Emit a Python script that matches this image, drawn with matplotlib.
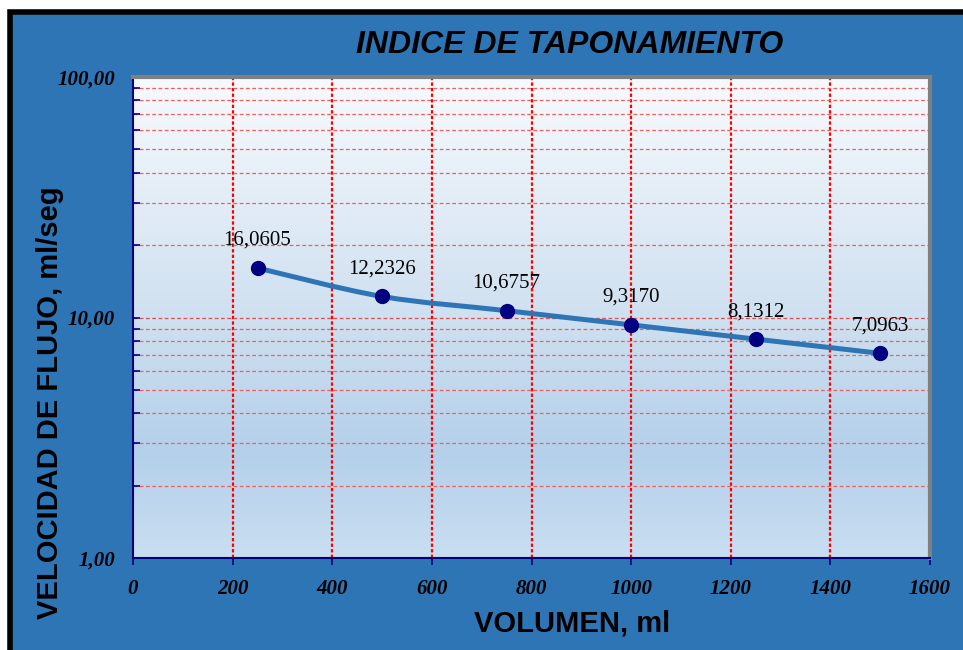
import numpy as np
import matplotlib
matplotlib.use("Agg")
import matplotlib.pyplot as plt
from matplotlib.path import Path
from matplotlib.patches import PathPatch, Rectangle
from matplotlib.ticker import FixedLocator, LogLocator, NullFormatter

# data
volumen = [250, 500, 750, 1000, 1250, 1500]
velocidad = [16.0605, 12.2326, 10.6757, 9.3170, 8.1312, 7.0963]
etiquetas = ["16,0605", "12,2326", "10,6757", "9,3170", "8,1312", "7,0963"]
x_ticks = [0, 200, 400, 600, 800, 1000, 1200, 1400, 1600]
y_ticks = [1, 10, 100]
y_tick_labels = ["1,00", "10,00", "100,00"]

blue = "#2E75B6"
navy = "#000080"
serif = ["Liberation Serif", "DejaVu Serif"]
sans = ["Liberation Sans", "DejaVu Sans"]

fig = plt.figure(figsize=(9.63, 6.5), dpi=100)
fig.patch.set_facecolor("white")

# black frame with blue fill (cropped on the right and bottom)
fig.patches.append(Rectangle((10 / 963, -0.05), 1.1, 1 - 12 / 650 + 0.05,
                             transform=fig.transFigure, facecolor=blue,
                             edgecolor="black", linewidth=4, zorder=-5))

ax = fig.add_axes([133 / 963, 1 - 558 / 650, (930 - 133) / 963, (558 - 77) / 650])
ax.set_facecolor("none")
ax.set_yscale("log")
ax.set_xlim(0, 1600)
ax.set_ylim(1, 100)

# vertical gradient background
stops = np.array([0.0, 0.22, 0.5, 1.0])
cols = np.array([[201, 222, 241], [180, 208, 234], [207, 224, 240], [247, 250, 253]]) / 255
t = np.linspace(0, 1, 256)
grad = np.stack([np.interp(t, stops, cols[:, i]) for i in range(3)], axis=1)[::-1]
ax.imshow(grad[:, None, :], extent=[0, 1, 0, 1], transform=ax.transAxes,
          aspect="auto", zorder=0, interpolation="bilinear")

# grid lines
for xv in x_ticks[1:-1]:
    ax.axvline(xv, color="red", linestyle=(0, (1.5, 1)), linewidth=1.6, zorder=1)
for dec in [1, 10]:
    for m in range(2, 10):
        ax.axhline(dec * m, color="#F06060", linestyle=(0, (3, 2)), linewidth=0.9, zorder=1)
ax.axhline(10, color="#E05050", linestyle=(0, (3, 2)), linewidth=0.9, zorder=1)

# smoothed line (cubic bezier in log space)
px = np.array(volumen, float)
py = np.log10(velocidad)
verts = [(px[0], velocidad[0])]
codes = [Path.MOVETO]
n = len(px)
for i in range(n - 1):
    p0 = (px[max(i - 1, 0)], py[max(i - 1, 0)])
    p1 = (px[i], py[i])
    p2 = (px[i + 1], py[i + 1])
    p3 = (px[min(i + 2, n - 1)], py[min(i + 2, n - 1)])
    c1 = (p1[0] + (p2[0] - p0[0]) / 6, p1[1] + (p2[1] - p0[1]) / 6)
    c2 = (p2[0] - (p3[0] - p1[0]) / 6, p2[1] - (p3[1] - p1[1]) / 6)
    for c in (c1, c2, p2):
        verts.append((c[0], 10 ** c[1]))
        codes.append(Path.CURVE4)
ax.add_patch(PathPatch(Path(verts, codes), facecolor="none", edgecolor=blue,
                       linewidth=3.6, zorder=3, transform=ax.transData))
ax.plot(volumen, velocidad, linestyle="none", marker="o", markersize=10,
        color=navy, zorder=4)

for xv, yv, lab in zip(volumen, velocidad, etiquetas):
    ax.annotate(lab, (xv, yv), xytext=(0, 13), textcoords="offset points",
                ha="center", va="bottom", fontsize=15, family=serif, color="black")

# axes styling
ax.set_xticks(x_ticks)
ax.set_xticklabels([str(v) for v in x_ticks])
ax.yaxis.set_major_locator(FixedLocator(y_ticks))
ax.set_yticklabels(y_tick_labels)
ax.yaxis.set_minor_locator(LogLocator(base=10, subs=np.arange(2, 10)))
ax.yaxis.set_minor_formatter(NullFormatter())
for lab in ax.get_xticklabels() + ax.get_yticklabels():
    lab.set_family(serif)
    lab.set_fontsize(15)
    lab.set_fontweight("bold")
    lab.set_fontstyle("italic")
ax.tick_params(axis="x", direction="out", length=5, width=1.2, color=navy, pad=10)
ax.tick_params(axis="y", which="both", direction="in", length=5, width=1.2, color=navy, pad=13)
ax.spines["left"].set_color(navy)
ax.spines["bottom"].set_color(navy)
ax.spines["left"].set_linewidth(1.5)
ax.spines["bottom"].set_linewidth(1.5)
ax.spines["top"].set_color("#808080")
ax.spines["right"].set_color("#808080")
ax.spines["top"].set_linewidth(3)
ax.spines["right"].set_linewidth(3)
for s in ax.spines.values():
    s.set_zorder(5)

fig.text(570 / 963, 1 - 45 / 650, "INDICE DE TAPONAMIENTO", ha="center", va="center",
         fontsize=23, fontweight="bold", fontstyle="italic", family=sans)
fig.text(572 / 963, 1 - 624 / 650, "VOLUMEN, ml", ha="center", va="center",
         fontsize=21, fontweight="bold", family=sans)
fig.text(50 / 963, 1 - 403 / 650, "VELOCIDAD DE FLUJO, ml/seg", ha="center", va="center",
         rotation=90, fontsize=21, fontweight="bold", family=sans)

fig.savefig("out.png", dpi=100)
